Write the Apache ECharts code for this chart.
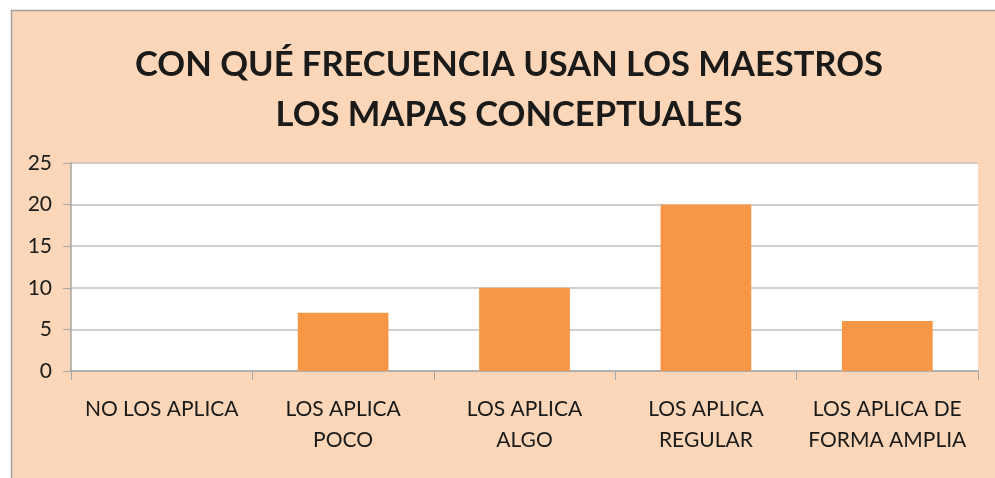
<!DOCTYPE html>
<html>
<head>
<meta charset="utf-8">
<script src="https://cdn.jsdelivr.net/npm/echarts@6/dist/echarts.min.js"></script>
<style>
html,body{margin:0;padding:0;background:#fff;}
#chart{width:995px;height:478px;}
</style>
</head>
<body>
<div id="chart"></div>
<script>
var titleText = "CON QUÉ FRECUENCIA USAN LOS MAESTROS\nLOS MAPAS CONCEPTUALES";
var categories = ["NO LOS APLICA", "LOS APLICA\nPOCO", "LOS APLICA\nALGO", "LOS APLICA\nREGULAR", "LOS APLICA DE\nFORMA AMPLIA"];
var values = [0, 7, 10, 20, 6];
var yTicks = [0, 5, 10, 15, 20, 25];

var font = "Lato, 'Open Sans', sans-serif";
var myChart = echarts.init(document.getElementById("chart"));
var option = {
	backgroundColor: "#ffffff",
	animation: false,
	graphic: [
		{
			type: "rect",
			z: -10,
			shape: {x: 11.5, y: 10.5, width: 1000, height: 500},
			style: {fill: "#FBD6B8", stroke: "#a0a0a0", lineWidth: 1.5}
		},
		{
			// title drawn as graphic so it can sit slightly right of centre
			type: "text",
			x: 509,
			y: 40,
			style: {
				text: titleText,
				textAlign: "center",
				fontFamily: font,
				fontWeight: "bold",
				fontSize: 34.5,
				lineHeight: 50,
				fill: "#1a1a1a"
			}
		}
	],
	grid: {
		left: 71,
		right: 17,
		top: 163,
		bottom: 107,
		show: true,
		backgroundColor: "#ffffff",
		borderWidth: 0
	},
	xAxis: {
		type: "category",
		data: categories,
		axisLine: {lineStyle: {color: "#a6a6a6", width: 1.5}},
		axisTick: {show: true, length: 9, alignWithLabel: false, lineStyle: {color: "#a6a6a6"}},
		axisLabel: {
			fontFamily: font,
			fontSize: 21,
			lineHeight: 31,
			color: "#1a1a1a",
			margin: 23,
			interval: 0
		}
	},
	yAxis: {
		type: "value",
		min: yTicks[0],
		max: yTicks[yTicks.length - 1],
		interval: 5,
		axisLine: {show: true, lineStyle: {color: "#a6a6a6", width: 1.5}},
		axisTick: {show: true, length: 8, lineStyle: {color: "#a6a6a6"}},
		splitLine: {lineStyle: {color: "#c0c0c0", width: 1.5}},
		axisLabel: {
			fontFamily: font,
			fontSize: 21,
			color: "#1a1a1a",
			margin: 19
		}
	},
	series: [
		{
			type: "bar",
			data: values,
			barWidth: "50%",
			itemStyle: {color: "#F79646"}
		}
	]
};
myChart.setOption(option);
</script>
</body>
</html>
